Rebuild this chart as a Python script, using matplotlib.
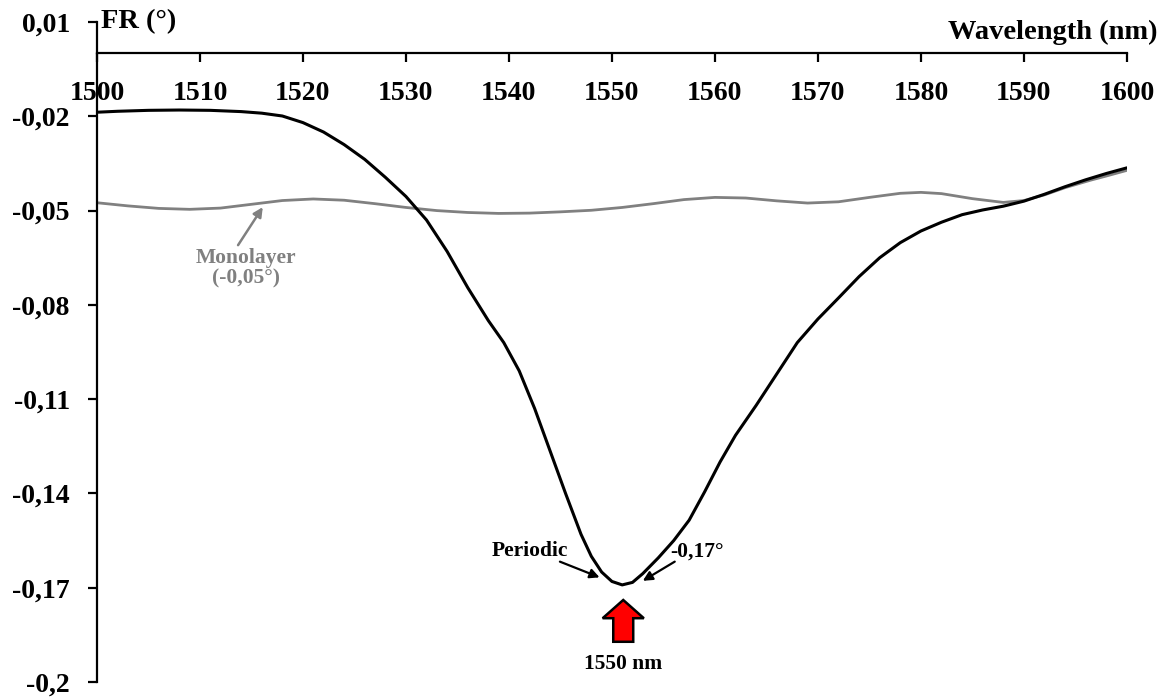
import matplotlib
matplotlib.use("Agg")
import matplotlib.pyplot as plt
from matplotlib.patches import FancyArrow
from matplotlib.ticker import FuncFormatter

plt.rcParams['font.family'] = ['Liberation Serif', 'DejaVu Serif']
plt.rcParams['font.weight'] = 'bold'

# --- Datos ---
lam_periodic = [1500, 1502, 1505, 1508, 1511, 1514, 1516, 1518, 1520, 1522, 1524,
                1526, 1528, 1530, 1532, 1534, 1536, 1538, 1539.5, 1541, 1542.5,
                1544, 1545.5, 1547, 1548, 1549, 1550, 1551, 1552, 1553, 1554.5,
                1556, 1557.5, 1559, 1560.5, 1562, 1564, 1566, 1568, 1570, 1572,
                1574, 1576, 1578, 1580, 1582, 1584, 1586, 1588, 1590, 1592, 1594,
                1596, 1598, 1600]
fr_periodic = [-0.0187, -0.0184, -0.0181, -0.0180, -0.0181, -0.0185, -0.0190, -0.0199,
               -0.0220, -0.0250, -0.0290, -0.0337, -0.0394, -0.0455, -0.0530, -0.0630,
               -0.0745, -0.0850, -0.0920, -0.1010, -0.1130, -0.1265, -0.1400, -0.1530,
               -0.1600, -0.1650, -0.1680, -0.1691, -0.1683, -0.1655, -0.1605, -0.1550,
               -0.1485, -0.1395, -0.1300, -0.1215, -0.1120, -0.1020, -0.0920, -0.0845,
               -0.0778, -0.0710, -0.0650, -0.0602, -0.0565, -0.0537, -0.0513, -0.0498,
               -0.0486, -0.0470, -0.0448, -0.0424, -0.0402, -0.0382, -0.0364]

lam_mono = [1500, 1503, 1506, 1509, 1512, 1515, 1518, 1521, 1524, 1527, 1530, 1533,
            1536, 1539, 1542, 1545, 1548, 1551, 1554, 1557, 1560, 1563, 1566, 1569,
            1572, 1575, 1578, 1580, 1582, 1585, 1588, 1590, 1592, 1594, 1596.5,
            1598, 1600]
fr_mono = [-0.0475, -0.0485, -0.0493, -0.0496, -0.0492, -0.0480, -0.0468, -0.0463,
           -0.0467, -0.0478, -0.0490, -0.0500, -0.0506, -0.0509, -0.0508, -0.0504,
           -0.0499, -0.0490, -0.0478, -0.0465, -0.0458, -0.0460, -0.0469, -0.0476,
           -0.0472, -0.0458, -0.0445, -0.0442, -0.0446, -0.0462, -0.0474, -0.0468,
           -0.0450, -0.0427, -0.0403, -0.0390, -0.0372]

xticks = [1500, 1510, 1520, 1530, 1540, 1550, 1560, 1570, 1580, 1590, 1600]
yticks = [0.01, -0.02, -0.05, -0.08, -0.11, -0.14, -0.17, -0.2]

# --- Grafico ---
fig = plt.figure(figsize=(11.68, 6.97), dpi=100)
ax = fig.add_axes([0.0830, 0.0215, 0.8818, 0.9469])

ax.plot(lam_mono, fr_mono, color='#808080', lw=2.0, solid_capstyle='round')
ax.plot(lam_periodic, fr_periodic, color='black', lw=2.2, solid_capstyle='round')

ax.set_xlim(1500, 1600)
ax.set_ylim(-0.2, 0.01)
ax.set_xticks(xticks)
ax.set_yticks(yticks)
ax.yaxis.set_major_formatter(FuncFormatter(lambda v, p: f"{v:g}".replace('.', ',')))

ax.spines['bottom'].set_position(('data', 0))
ax.spines['top'].set_visible(False)
ax.spines['right'].set_visible(False)
for s in ['left', 'bottom']:
    ax.spines[s].set_linewidth(1.6)
ax.tick_params(axis='x', direction='out', length=6.5, width=1.6, pad=13, labelsize=20)
ax.tick_params(axis='y', direction='out', length=6.5, width=1.6, pad=13, labelsize=20)

ax.text(0.004, 1.0, 'FR (°)', transform=ax.transAxes, fontsize=20.5,
        ha='left', va='center')
ax.text(1603, 0.0068, 'Wavelength (nm)', fontsize=20.5, ha='right', va='center',
        clip_on=False)

# Anotaciones
ax.text(1514.5, -0.0683, 'Monolayer\n(-0,05°)', color='#808080', fontsize=15.5,
        ha='center', va='center', linespacing=1.05)
ax.annotate('', xy=(1516.1, -0.0489), xytext=(1513.7, -0.0610),
            arrowprops=dict(arrowstyle='-|>', color='#808080', lw=1.8,
                            mutation_scale=14, shrinkA=0, shrinkB=0))
ax.annotate('', xy=(1548.8, -0.1667), xytext=(1544.95, -0.1617),
            arrowprops=dict(arrowstyle='-|>', color='black', lw=1.6,
                            mutation_scale=14, shrinkA=0, shrinkB=0))
ax.text(1542.0, -0.1583, 'Periodic', fontsize=15.5, ha='center', va='center')
ax.annotate('', xy=(1553.0, -0.1678), xytext=(1556.1, -0.1617),
            arrowprops=dict(arrowstyle='-|>', color='black', lw=1.6,
                            mutation_scale=14, shrinkA=0, shrinkB=0))
ax.text(1558.3, -0.1585, '-0,17°', fontsize=15.5, ha='center', va='center')

ax.add_patch(FancyArrow(1551.1, -0.1872, 0, 0.0133, width=1.94, head_width=4.0,
                        head_length=0.0058, length_includes_head=True,
                        fc='red', ec='black', lw=1.8, clip_on=False))
ax.text(1551.1, -0.1943, '1550 nm', fontsize=15.5, ha='center', va='center')

fig.savefig('out.png', dpi=100)
